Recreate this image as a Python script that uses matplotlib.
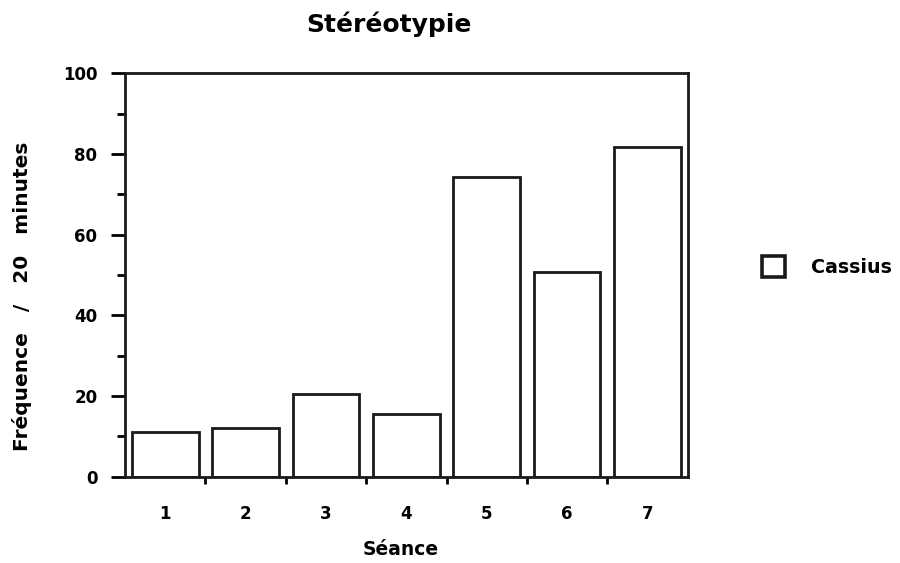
import numpy as np
import matplotlib.pyplot as plt
from matplotlib.ticker import MultipleLocator, FixedLocator

plt.rcParams['font.family'] = ['DejaVu Sans']
plt.rcParams['font.weight'] = 'bold'

seances = ['1', '2', '3', '4', '5', '6', '7']
cassius = [11, 12, 20.6, 15.5, 74.3, 50.7, 81.8]

fig = plt.figure(figsize=(9, 5.63), dpi=100)
ax = fig.add_axes([0.139, 0.153, 0.625, 0.717])

x = np.arange(len(seances))
ax.bar(x, cassius, width=0.83, facecolor='white', edgecolor='#1a1a1a',
       linewidth=2.0, label='Cassius')

ax.set_xlim(-0.5, len(seances) - 0.5)
ax.set_ylim(0, 100)
ax.set_xticks(x)
ax.set_xticklabels(seances)
ax.xaxis.set_minor_locator(FixedLocator(x[:-1] + 0.5))
ax.yaxis.set_major_locator(MultipleLocator(20))
ax.yaxis.set_minor_locator(MultipleLocator(10))

ax.tick_params(axis='x', which='major', length=0, pad=20, labelsize=12)
ax.tick_params(axis='x', which='minor', direction='out', length=5, width=2.0)
ax.tick_params(axis='y', which='major', direction='out', length=10, width=2.0,
               pad=10, labelsize=12)
ax.tick_params(axis='y', which='minor', direction='out', length=6, width=2.0)

for s in ax.spines.values():
    s.set_linewidth(2.0)
    s.set_color('#1a1a1a')

# titres places en coordonnees de la figure
fig.text(389 / 900, 1 - 32 / 563, 'Stéréotypie', fontsize=18, fontweight='bold',
         ha='center', va='baseline')
fig.text(401 / 900, 1 - 555 / 563, 'Séance', fontsize=13.5, fontweight='bold',
         ha='center', va='baseline')
fig.text(22 / 900, 1 - 296 / 563, 'Fréquence   /   20   minutes', fontsize=14.5,
         fontweight='bold', rotation=90, ha='center', va='center')

leg = ax.legend(loc='center left', bbox_to_anchor=(762 / 900, 1 - 266.5 / 563),
                bbox_transform=fig.transFigure, frameon=False, fontsize=13.7,
                handlelength=1.2, handleheight=1.3, handletextpad=1.4,
                borderpad=0, borderaxespad=0)
leg.legend_handles[0].set_linewidth(2.6)

fig.savefig('out.png', dpi=100, facecolor='white')
